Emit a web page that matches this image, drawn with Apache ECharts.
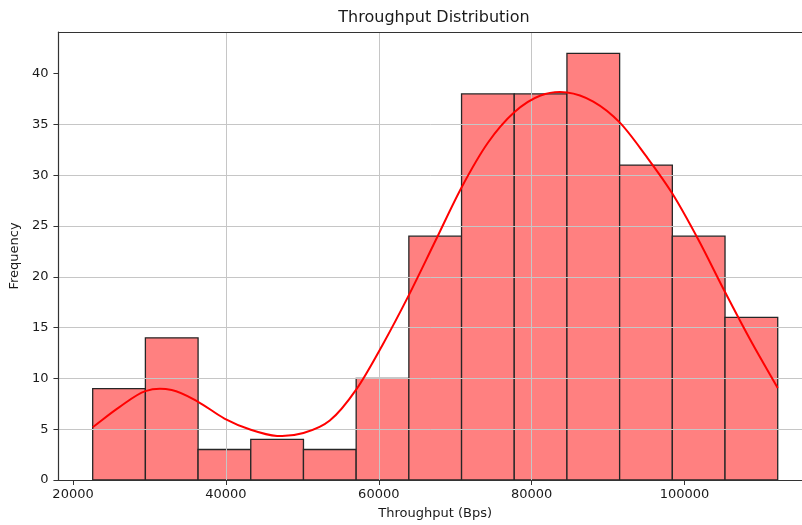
<!DOCTYPE html>
<html>
<head>
<meta charset="utf-8">
<script src="https://cdn.jsdelivr.net/npm/echarts@6/dist/echarts.min.js"></script>
<style>
  html, body { margin: 0; padding: 0; background: #ffffff; }
  #chart { width: 802px; height: 525px; }
</style>
</head>
<body>
<div id="chart"></div>
<script>
// Histogram bin edges (Bps) and counts per bin
const binEdges = [22570, 29464, 36358, 43252, 50146, 57040, 63934, 70828, 77722, 84616, 91510, 98404, 105298, 112192];
const binCounts = [9, 14, 3, 4, 3, 10, 24, 38, 38, 42, 31, 24, 16];

// Kernel density estimate, scaled to counts, sampled at bin edges and centres
const kdeX = [22570, 26017, 29464, 32911, 36358, 39805, 43252, 46699, 50146, 53593, 57040, 60487, 63934, 67381, 70828, 74275, 77722, 81169, 84616, 88063, 91510, 94957, 98404, 101851, 105298, 108745, 112192];
const kdeY = [5.2, 7.15, 8.75, 8.85, 7.7, 6.05, 4.95, 4.34, 4.62, 5.85, 8.9, 13.3, 18.2, 23.5, 28.8, 33.2, 36.2, 37.85, 38.15, 37.25, 35.2, 31.9, 28.2, 23.6, 18.5, 13.6, 9.05];

// Tick values shown on each axis
const xTicks = [20000, 40000, 60000, 80000, 100000];
const yTicks = [0, 5, 10, 15, 20, 25, 30, 35, 40];

const titleText = 'Throughput Distribution';
const xName = 'Throughput (Bps)';
const yName = 'Frequency';

const FONT = 'DejaVu Sans';
const TEXT = '#1a1a1a';
const SPINE = '#333333';
const GRIDC = '#c6c6c6';

// x range: left edge of the axes box and the part of it inside the canvas
const X_MIN = 18089;
const X_MAX = 115369;
const Y_MAX = 44.1;

const barData = binCounts.map((c, i) => [binEdges[i], binEdges[i + 1], c]);
const kdeData = kdeX.map((x, i) => [x, kdeY[i]]);

// Smooth curve through the KDE samples (Catmull-Rom converted to cubic Bezier)
function kdePath(api) {
  const pts = kdeData.map(d => api.coord(d));
  const n = pts.length;
  const at = i => {
    if (i < 0) return [2 * pts[0][0] - pts[1][0], 2 * pts[0][1] - pts[1][1]];
    if (i >= n) return [2 * pts[n - 1][0] - pts[n - 2][0], 2 * pts[n - 1][1] - pts[n - 2][1]];
    return pts[i];
  };
  let d = 'M' + pts[0][0] + ' ' + pts[0][1];
  for (let i = 0; i < n - 1; i++) {
    const p0 = at(i - 1), p1 = at(i), p2 = at(i + 1), p3 = at(i + 2);
    const c1x = p1[0] + (p2[0] - p0[0]) / 6, c1y = p1[1] + (p2[1] - p0[1]) / 6;
    const c2x = p2[0] - (p3[0] - p1[0]) / 6, c2y = p2[1] - (p3[1] - p1[1]) / 6;
    d += ' C' + c1x + ' ' + c1y + ' ' + c2x + ' ' + c2y + ' ' + p2[0] + ' ' + p2[1];
  }
  return d;
}

const chart = echarts.init(document.getElementById('chart'), null, { renderer: 'canvas' });

chart.setOption({
  animation: false,
  backgroundColor: '#ffffff',
  textStyle: { fontFamily: FONT },
  graphic: [{
    type: 'text',
    x: 434,
    y: 18,
    z: 10,
    style: {
      text: titleText,
      fontFamily: FONT,
      fontSize: 16,
      fill: TEXT,
      align: 'center',
      verticalAlign: 'middle'
    }
  }],
  grid: {
    left: 56.5,
    right: 0,
    top: 32,
    bottom: 42.3,
    show: false
  },
  xAxis: [{
    type: 'value',
    min: X_MIN,
    max: X_MAX,
    z: 3,
    name: xName,
    nameLocation: 'middle',
    nameGap: 27,
    nameTextStyle: { fontFamily: FONT, fontSize: 13, color: TEXT, padding: [0, 0, 0, 10] },
    axisLine: { show: true, onZero: false, lineStyle: { color: SPINE, width: 1.2 } },
    axisTick: { show: true, length: 5, lineStyle: { color: SPINE, width: 1 }, customValues: xTicks },
    axisLabel: {
      fontFamily: FONT, fontSize: 13, color: TEXT, margin: 8, customValues: xTicks,
      formatter: function (v) { return String(v); }
    },
    splitLine: { show: true, showMinLine: false, showMaxLine: false, lineStyle: { color: GRIDC, width: 1 } }
  }, {
    // top spine of the axes box
    type: 'value',
    position: 'top',
    min: X_MIN,
    max: X_MAX,
    z: 3,
    axisLine: { show: true, onZero: false, lineStyle: { color: SPINE, width: 1.2 } },
    axisTick: { show: false },
    axisLabel: { show: false },
    splitLine: { show: false }
  }],
  yAxis: {
    type: 'value',
    min: 0,
    max: Y_MAX,
    interval: 5,
    z: 3,
    name: yName,
    nameLocation: 'middle',
    nameGap: 32,
    nameTextStyle: { fontFamily: FONT, fontSize: 13, color: TEXT },
    axisLine: { show: true, lineStyle: { color: SPINE, width: 1.2 } },
    axisTick: { show: true, length: 5, lineStyle: { color: SPINE, width: 1 }, customValues: yTicks },
    axisLabel: { fontFamily: FONT, fontSize: 13, color: TEXT, margin: 10, customValues: yTicks },
    splitLine: { show: true, showMinLine: false, showMaxLine: false, lineStyle: { color: GRIDC, width: 1 } }
  },
  series: [
    {
      type: 'custom',
      name: 'histogram',
      z: 1,
      data: barData,
      encode: { x: [0, 1], y: 2 },
      renderItem: function (params, api) {
        const p0 = api.coord([api.value(0), 0]);
        const p1 = api.coord([api.value(1), api.value(2)]);
        return {
          type: 'rect',
          shape: { x: p0[0], y: p1[1], width: p1[0] - p0[0], height: p0[1] - p1[1] },
          style: { fill: '#ff8080', stroke: '#262626', lineWidth: 1.3 }
        };
      }
    },
    {
      type: 'custom',
      name: 'kde',
      z: 6,
      data: kdeData,
      encode: { x: 0, y: 1 },
      renderItem: function (params, api) {
        if (params.dataIndex !== 0) return null;
        return {
          type: 'path',
          shape: { pathData: kdePath(api) },
          style: { fill: 'none', stroke: '#ff0000', lineWidth: 2 }
        };
      }
    }
  ]
});
</script>
</body>
</html>
